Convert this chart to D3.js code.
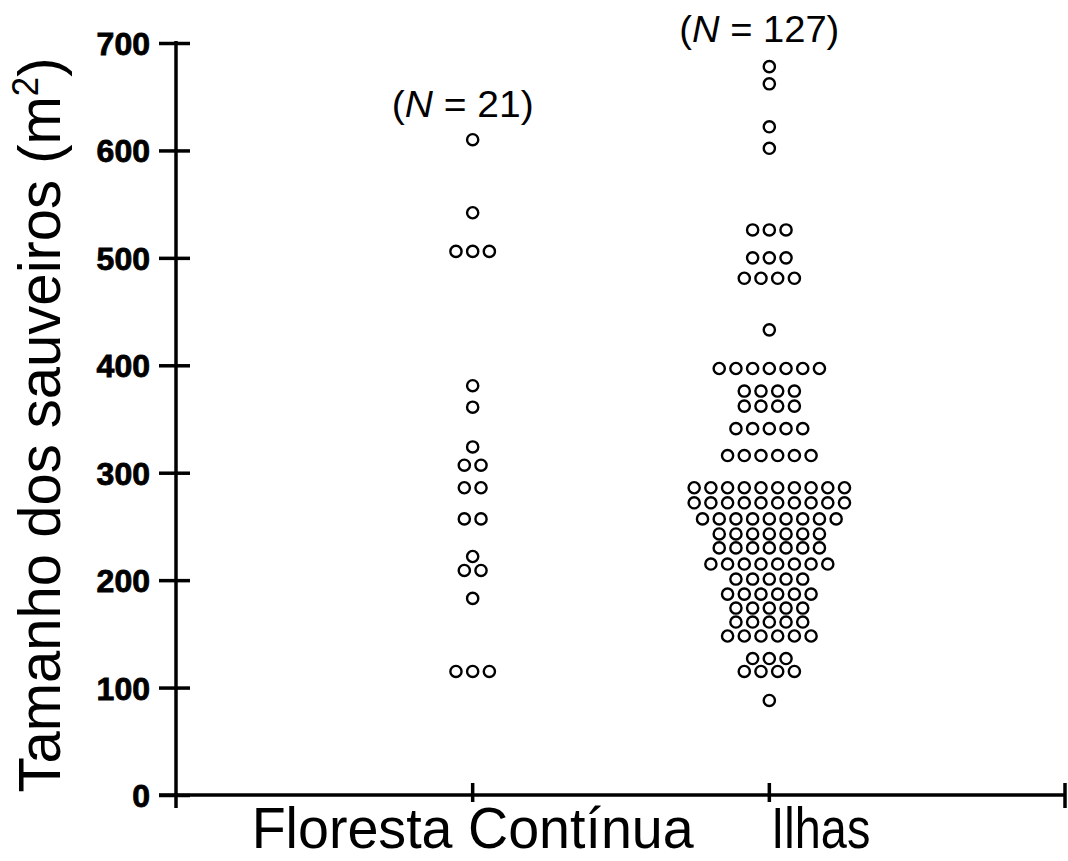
<!DOCTYPE html>
<html>
<head>
<meta charset="utf-8">
<script src="https://cdn.jsdelivr.net/npm/d3@7"></script>
<style>
  body { margin: 0; background: #fff; }
  svg { display: block; font-family: "Liberation Sans", Arial, sans-serif; }
</style>
</head>
<body>
<svg id="chart" width="1068" height="861"></svg>
<script>
// categories and sample sizes
var categories = ['Floresta Contínua', 'Ilhas'];
var sampleSizes = ['21', '127'];
var yTicks = [0, 100, 200, 300, 400, 500, 600, 700];

// one value per ant nest (m2)
var florestaValues = [
    610,
    542,
    506, 506, 506,
    381,
    361,
    324,
    307, 307,
    286, 286,
    257, 257,
    222,
    209, 209,
    183,
    115, 115, 115
];

var ilhasValues = [
    678,
    662,
    622,
    602,
    526, 526, 526,
    500, 500, 500,
    481, 481, 481, 481,
    433,
    397, 397, 397, 397, 397, 397, 397,
    376, 376, 376, 376,
    362, 362, 362, 362,
    341, 341, 341, 341, 341,
    316, 316, 316, 316, 316, 316,
    286, 286, 286, 286, 286, 286, 286, 286, 286, 286,
    272, 272, 272, 272, 272, 272, 272, 272, 272, 272,
    257, 257, 257, 257, 257, 257, 257, 257, 257,
    243, 243, 243, 243, 243, 243, 243,
    230, 230, 230, 230, 230, 230, 230,
    215, 215, 215, 215, 215, 215, 215, 215,
    201, 201, 201, 201, 201,
    187, 187, 187, 187, 187, 187,
    174, 174, 174, 174, 174,
    161, 161, 161, 161, 161,
    148, 148, 148, 148, 148, 148,
    127, 127, 127,
    115, 115, 115, 115,
    88
];

var seriesValues = [florestaValues, ilhasValues];

var svg = d3.select('#chart');

var axisLeft = 176, axisRight = 1066;
var axisBottom = 795, axisTop = 43;

var xScale = d3.scalePoint()
    .domain(categories)
    .range([axisLeft, axisRight])
    .padding(1);

var yScale = d3.scaleLinear()
    .domain([0, 700])
    .range([axisBottom, axisTop]);

var r = 5.6;
var step = 16.7;

// y axis
var yAxisG = svg.append('g')
    .attr('transform', 'translate(' + axisLeft + ',0)')
    .call(d3.axisLeft(yScale).tickValues(yTicks).tickSize(0).tickPadding(26));

yAxisG.select('.domain').remove();
yAxisG.selectAll('.tick line')
    .attr('x1', -17)
    .attr('x2', 14)
    .attr('stroke', '#000')
    .attr('stroke-width', 3.5);
yAxisG.selectAll('.tick text')
    .attr('fill', '#000')
    .attr('stroke', '#000')
    .attr('stroke-width', 0.8)
    .style('font-size', '32px')
    .style('font-weight', 'bold')
    .attr('dy', '0.36em');

svg.append('line')
    .attr('x1', axisLeft).attr('x2', axisLeft)
    .attr('y1', yScale(700) - 2).attr('y2', axisBottom + 13)
    .attr('stroke', '#000').attr('stroke-width', 3.5);

// x axis
svg.append('line')
    .attr('x1', axisLeft - 17).attr('x2', axisRight)
    .attr('y1', axisBottom).attr('y2', axisBottom)
    .attr('stroke', '#000').attr('stroke-width', 3.5);

svg.selectAll('.x-tick')
    .data(categories)
    .enter()
    .append('line')
    .attr('class', 'x-tick')
    .attr('x1', d => xScale(d)).attr('x2', d => xScale(d))
    .attr('y1', axisBottom - 12).attr('y2', axisBottom + 7)
    .attr('stroke', '#000').attr('stroke-width', 3.5);

svg.append('line')
    .attr('x1', axisRight - 1).attr('x2', axisRight - 1)
    .attr('y1', axisBottom - 12).attr('y2', axisBottom + 13)
    .attr('stroke', '#000').attr('stroke-width', 3.5);

// category labels
svg.append('text')
    .attr('x', xScale(categories[0]))
    .attr('y', 848)
    .attr('text-anchor', 'middle')
    .attr('textLength', 442)
    .attr('lengthAdjust', 'spacingAndGlyphs')
    .style('font-size', '58px')
    .text(categories[0]);

svg.append('text')
    .attr('x', xScale(categories[1]) + 2)
    .attr('y', 848)
    .attr('text-anchor', 'start')
    .attr('textLength', 99)
    .attr('lengthAdjust', 'spacingAndGlyphs')
    .style('font-size', '58px')
    .text(categories[1]);

// y axis title
var yTitle = svg.append('text')
    .attr('transform', 'translate(60,425) rotate(-90)')
    .attr('text-anchor', 'middle')
    .attr('textLength', 735)
    .attr('lengthAdjust', 'spacingAndGlyphs')
    .style('font-size', '60px');
yTitle.append('tspan').text('Tamanho dos sauveiros (m');
yTitle.append('tspan').attr('dy', -22).style('font-size', '36px').text('2');
yTitle.append('tspan').attr('dy', 22).text(')');

// sample size labels
var nLabelPos = [{y: 117, w: 142}, {y: 42, w: 160}];
categories.forEach(function(cat, i) {
    var t = svg.append('text')
        .attr('x', xScale(cat) - 10)
        .attr('y', nLabelPos[i].y)
        .attr('text-anchor', 'middle')
        .attr('textLength', nLabelPos[i].w)
        .attr('lengthAdjust', 'spacingAndGlyphs')
        .style('font-size', '37px');
    t.append('tspan').text('(');
    t.append('tspan').style('font-style', 'italic').text('N');
    t.append('tspan').text(' = ' + sampleSizes[i] + ')');
});

// dots: stack equal values side by side around the category centre
categories.forEach(function(cat, i) {
    var groups = d3.groups(seriesValues[i], d => d);
    var points = [];
    groups.forEach(function(g) {
        var n = g[1].length;
        g[1].forEach(function(v, j) {
            points.push({value: v, offset: (j - (n - 1) / 2) * step});
        });
    });

    svg.append('g')
        .selectAll('circle')
        .data(points)
        .enter()
        .append('circle')
        .attr('cx', d => xScale(cat) + d.offset)
        .attr('cy', d => yScale(d.value))
        .attr('r', r)
        .attr('fill', '#fff')
        .attr('stroke', '#000')
        .attr('stroke-width', 2.4);
});
</script>
</body>
</html>
